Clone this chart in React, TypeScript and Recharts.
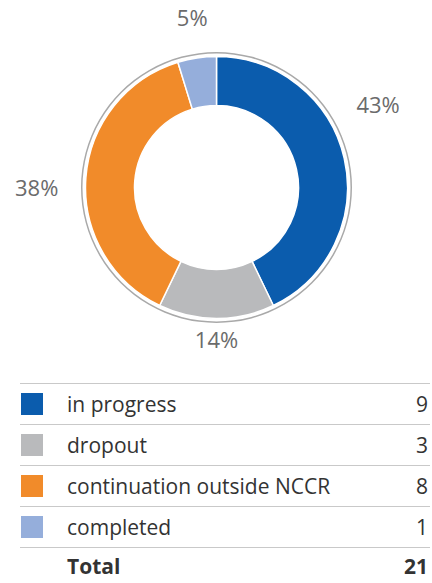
import { PieChart, Pie, Cell } from 'recharts';

const categories = ['in progress', 'dropout', 'continuation outside NCCR', 'completed'];
const counts = [9, 3, 8, 1];
const percentLabels = ['43%', '14%', '38%', '5%'];
const colors = ['#0b5cad', '#b9babc', '#f18b2a', '#95aedb'];
const totalLabel = 'Total';

const total = counts.reduce((a, b) => a + b, 0);
const data = categories.map((name, i) => ({ name, value: counts[i] }));
const ringData = [{ name: 'all', value: total }];

// hand tweak of the label angles (degrees), like in the original layout
const LABEL_NUDGE = [12, 0, 7, 0];
const RAD = Math.PI / 180;
const FONT = '"Open Sans", "Noto Sans", sans-serif';

function renderLabel(props: any) {
  const { cx, cy, midAngle, index } = props;
  const angle = (midAngle + LABEL_NUDGE[index]) * RAD;
  const r = 160 + 20 * Math.abs(Math.cos(angle));
  const x = cx + r * Math.cos(angle);
  const y = cy - r * Math.sin(angle);
  return (
    <text
      x={x}
      y={y}
      textAnchor="middle"
      fill="#6b6b6b"
      fontSize={22}
      fontFamily={FONT}
    >
      {percentLabels[index]}
    </text>
  );
}

export default function App() {
  return (
    <div style={{ position: 'relative', width: 432, height: 583, background: '#fff', fontFamily: FONT }}>
      <style>{'body{margin:0}'}</style>
      <PieChart width={432} height={383} margin={{ top: 0, right: 0, bottom: 0, left: 0 }}>
        <Pie
          data={ringData}
          dataKey="value"
          cx={216.5}
          cy={187.5}
          innerRadius={134}
          outerRadius={135.5}
          startAngle={90}
          endAngle={-270}
          fill="#a9a9a9"
          stroke="none"
          isAnimationActive={false}
        />
        <Pie
          data={data}
          dataKey="value"
          cx={216.5}
          cy={187.5}
          innerRadius={82}
          outerRadius={131}
          startAngle={90}
          endAngle={-270}
          stroke="#ffffff"
          strokeWidth={1.5}
          label={renderLabel}
          labelLine={false}
          isAnimationActive={false}
        >
          {data.map((d, i) => (
            <Cell key={d.name} fill={colors[i]} />
          ))}
        </Pie>
      </PieChart>
      <div style={{ position: 'absolute', left: 20, top: 383, width: 410, color: '#333', fontSize: 21 }}>
        {categories.map((name, i) => (
          <div
            key={name}
            style={{
              height: 41,
              boxSizing: 'border-box',
              borderTop: '1px solid #c9c9c9',
              display: 'flex',
              alignItems: 'center',
            }}
          >
            <span style={{ width: 22, height: 22, background: colors[i], marginLeft: 1, marginRight: 24 }} />
            <span style={{ flex: 1 }}>{name}</span>
            <span style={{ marginRight: 2 }}>{counts[i]}</span>
          </div>
        ))}
        <div
          style={{
            height: 36,
            boxSizing: 'border-box',
            borderTop: '1px solid #c9c9c9',
            display: 'flex',
            alignItems: 'center',
            fontWeight: 'bold',
          }}
        >
          <span style={{ flex: 1, paddingLeft: 47 }}>{totalLabel}</span>
          <span style={{ marginRight: 2 }}>{total}</span>
        </div>
      </div>
    </div>
  );
}
